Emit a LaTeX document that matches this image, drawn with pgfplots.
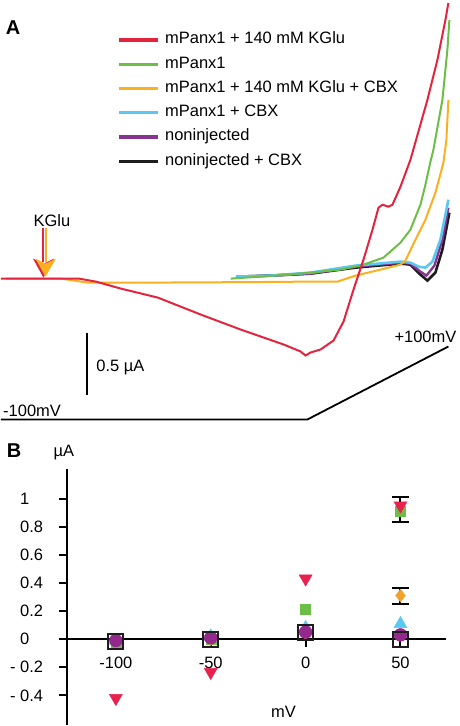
\documentclass[border=0pt]{standalone}
\usepackage{fontspec}
\setmainfont{Liberation Sans}
\usepackage{pgfplots}
\pgfplotsset{compat=1.18}
\definecolor{cRed}{RGB}{228,36,62}
\definecolor{cRedM}{RGB}{232,34,78}
\definecolor{cGreen}{RGB}{108,190,70}
\definecolor{cOrange}{RGB}{250,176,32}
\definecolor{cOrangeM}{RGB}{240,162,46}
\definecolor{cBlue}{RGB}{90,200,240}
\definecolor{cPurple}{RGB}{135,52,145}
\definecolor{cPurpleM}{RGB}{148,40,140}
\definecolor{cBlack}{RGB}{30,28,30}
\begin{document}
\begin{tikzpicture}[font=\fontsize{16.5bp}{19.8bp}\selectfont]
% ---------------- Panel A (pixel canvas) ----------------
\begin{axis}[
  at={(0bp,0bp)}, anchor=south west,
  x=1bp, y=1bp,
  xmin=0, xmax=458, ymin=-726, ymax=0,
  hide axis, clip=false,
  legend style={at={(axis cs:116,-32)}, anchor=north west, draw=none, fill=none,
    inner sep=0pt, outer sep=0pt, row sep=8.3bp, column sep=5bp,
    nodes={inner sep=0pt, text height=12bp, text depth=4bp},
    font=\fontsize{16.5bp}{19.8bp}\selectfont},
  legend cell align=left,
  legend image code/.code={\draw[#1, line width=3.4bp] (0bp,0bp) -- (40bp,0bp);},
]
\addplot[draw=none, forget plot] coordinates {(0,0) (458,-726)};
\addlegendimage{cRed}
\addlegendimage{cGreen}
\addlegendimage{cOrange}
\addlegendimage{cBlue}
\addlegendimage{cPurple}
\addlegendimage{cBlack}
\legend{mPanx1 + 140 mM KGlu, mPanx1, mPanx1 + 140 mM KGlu + CBX, mPanx1 + CBX, noninjected, noninjected + CBX}
% traces
\addplot[cBlack, line width=2.6bp, forget plot] coordinates {
 (237,-277) (270,-276) (310,-274) (355,-268) (400,-264) (410,-265) (420,-275) (427,-281) (435,-273) (442,-250) (449,-213)};
\addplot[cPurple, line width=2.4bp, forget plot] coordinates {
 (236,-277) (270,-276) (310,-274) (355,-267) (400,-263) (410,-264) (420,-272) (426,-276) (434,-266) (442,-240) (448,-208)};
\addplot[cBlue, line width=2.6bp, forget plot] coordinates {
 (235,-277) (270,-276) (310,-273) (355,-266) (400,-262) (410,-263) (418,-267) (425,-268) (432,-262) (440,-240) (448,-200)};
\addplot[cGreen, line width=2bp, forget plot] coordinates {
 (230,-279) (260,-277) (310,-273) (340,-270) (360,-266) (383,-258) (400,-243) (410,-230) (420,-205) (425,-185) (430,-162) (433,-150) (442,-100) (447,-50) (449,-20)};
\addplot[cOrange, line width=2bp, forget plot] coordinates {
 (5,-279) (40,-279) (60,-279) (87,-283) (150,-283) (250,-282.5) (310,-282) (337,-282) (355,-276) (380,-270) (400,-265) (405,-261) (415,-240) (425,-220) (435,-193) (443,-163) (446,-140) (448,-100)};
\addplot[cRed, line width=2bp, forget plot] coordinates {
 (0,-279) (40,-279) (78,-279) (95,-282) (120,-289) (157,-298) (200,-315) (240,-330) (283,-345) (300,-352) (305,-356) (310,-353) (320,-350) (333,-341) (343,-322) (353,-290) (363,-260) (372,-230) (378,-208) (382,-205) (388,-207) (392,-205) (400,-187) (410,-160) (427,-100) (437,-60) (445,-20) (448,-3)};
% KGlu arrow
\addplot[cRed, line width=2bp, forget plot] coordinates {(42.5,-228) (42.5,-262)};
\addplot[cOrange, line width=2bp, forget plot] coordinates {(45.2,-228) (45.2,-262)};
\addplot[fill=cRed, draw=none, forget plot] coordinates {(32,-259) (43,-264) (53,-259) (42.5,-278)} -- cycle;
\addplot[fill=cOrange, draw=none, forget plot] coordinates {(34.5,-259) (44.5,-264) (55,-259) (44.5,-277)} -- cycle;
% scale bar and protocol
\addplot[black, line width=2bp, forget plot] coordinates {(86,-333) (86,-396)};
\addplot[black, line width=1.8bp, forget plot] coordinates {(0,-420) (307,-420) (448,-347)};
\node[anchor=center, font=\fontsize{20bp}{24bp}\selectfont\bfseries] at (axis cs:12,-28) {A};
\node[anchor=center] at (axis cs:51,-221) {KGlu};
\node[anchor=west] at (axis cs:92,-368) {0.5 µA};
\node[anchor=west, inner sep=0pt] at (axis cs:2,-411.5) {-100mV};
\node[anchor=center] at (axis cs:425,-337) {+100mV};
\node[anchor=center, font=\fontsize{20bp}{24bp}\selectfont\bfseries] at (axis cs:13,-451) {B};
\end{axis}
% ---------------- Panel B ----------------
\begin{axis}[
  at={(66bp,0bp)}, anchor=south west,
  scale only axis, width=380bp, height=256bp,
  xmin=-125.8, xmax=74.2, ymin=-0.611, ymax=1.208,
  axis x line=middle, axis y line=left,
  axis line style={-, line width=2bp, black},
  xtick={-100,-50,0,50}, xticklabels={-100,-50,0,50},
  ytick={-0.4,-0.2,0,0.2,0.4,0.6,0.8,1},
  yticklabels={\llap{- }0.4,\llap{- }0.2,0,0.2,0.4,0.6,0.8,1},
  tick align=outside, major tick length=8bp,
  tick style={line width=2bp, black},
  xticklabel style={anchor=north, inner sep=0pt, yshift=-9.5bp},
  yticklabel style={anchor=west, inner sep=0pt, xshift=-39bp},
  xlabel={mV}, ylabel={µA},
  every axis x label/.style={at={(axis cs:-11.6,-0.519)}, anchor=center},
  every axis y label/.style={at={(axis cs:-127.4,1.329)}, anchor=center},
  clip=false,
  error bars/error bar style={line width=2bp, black},
  error bars/error mark options={line width=2bp, black, mark size=8.5bp, rotate=90},
]
\addplot[only marks, mark=square*, mark size=5bp, color=cGreen,
  error bars/.cd, y dir=both, y explicit] coordinates {
 (-100,-0.02) (-50,0.0) (0,0.213) (50,0.91) += (0,0.10) -= (0,0.076)};
\addplot[only marks, mark=diamond*, mark size=6.5bp, color=cOrangeM,
  error bars/.cd, y dir=both, y explicit] coordinates {
 (-100,-0.01) (-50,0.0) (0,0.04) (50,0.31) += (0,0.057) -= (0,0.057)};
\addplot[only marks, mark=triangle*, mark size=7.5bp, color=cBlue] coordinates {
 (-100,-0.01) (-50,0.02) (0,0.08) (50,0.109)};
\addplot[only marks, mark=*, mark size=6.5bp, color=cPurpleM] coordinates {
 (-100,-0.01) (-50,0.01) (0,0.05) (50,0.03)};
\addplot[only marks, mark=square, mark size=7.5bp, color=cBlack, mark options={line width=2bp}] coordinates {
 (-100,-0.02) (-50,0.0) (0,0.05) (50,0.0)};
\addplot[only marks, mark=triangle*, mark size=7.5bp, color=cRedM, mark options={rotate=180}] coordinates {
 (-100,-0.42) (-50,-0.235) (0,0.43) (50,0.95)};
\end{axis}
\end{tikzpicture}
\end{document}
